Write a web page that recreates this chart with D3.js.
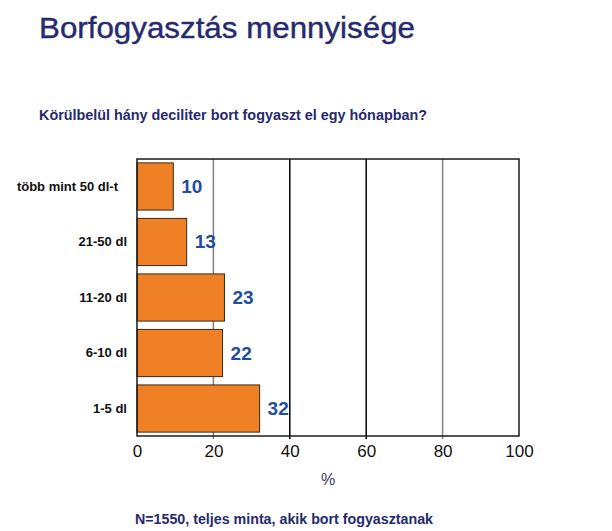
<!DOCTYPE html>
<html><head><meta charset="utf-8">
<script src="https://cdn.jsdelivr.net/npm/d3@7"></script>
<style>body{margin:0;background:#fff;} svg{display:block;font-family:"Liberation Sans",Arial,sans-serif;}</style>
</head><body>
<script>
const categories = ["több mint 50 dl-t","21-50 dl","11-20 dl","6-10 dl","1-5 dl"];
const values = [9.5, 13, 22.9, 22.4, 32.1];
const labels = ["10","13","23","22","32"];
const xTicks = [0,20,40,60,80,100];
const gridColors = {20:"#808080",40:"#000",60:"#000",80:"#808080"};

const W=612,H=531;
const m={left:137,right:612-519,top:159,bottom:531-436};
const svg=d3.select("body").append("svg").attr("width",W).attr("height",H);
const x=d3.scaleLinear().domain([0,100]).range([m.left,W-m.right]);
const y=d3.scaleBand().domain(categories).range([m.top,H-m.bottom]).paddingInner(0.15).paddingOuter(0.07);

svg.append("text").attr("x",39).attr("y",38).attr("font-size",30).attr("fill","#262a6e")
  .attr("textLength",376).attr("lengthAdjust","spacingAndGlyphs").attr("stroke","#262a6e").attr("stroke-width",0.4)
  .text("Borfogyasztás mennyisége");
svg.append("text").attr("x",39).attr("y",120).attr("font-size",15).attr("font-weight","bold").attr("fill","#262a6e")
  .attr("textLength",388).attr("lengthAdjust","spacingAndGlyphs")
  .text("Körülbelül hány deciliter bort fogyaszt el egy hónapban?");

// gridlines
svg.append("g").selectAll("line").data(xTicks.filter(d=>d>0&&d<100)).join("line")
 .attr("x1",d=>x(d)).attr("x2",d=>x(d)).attr("y1",m.top).attr("y2",H-m.bottom+3)
 .attr("stroke",d=>gridColors[d]).attr("stroke-width",1.5);

// bars
svg.append("g").selectAll("rect").data(values).join("rect")
 .attr("x",x(0)).attr("y",(d,i)=>y(categories[i])).attr("width",d=>x(d)-x(0)).attr("height",y.bandwidth())
 .attr("fill","#f08026").attr("stroke","#3a2a1a").attr("stroke-width",1);

// frame
svg.append("rect").attr("x",m.left).attr("y",m.top).attr("width",x(100)-x(0)).attr("height",H-m.bottom-m.top)
 .attr("fill","none").attr("stroke","#1a1a1a").attr("stroke-width",1.5);

// value labels
svg.append("g").selectAll("text").data(values).join("text")
 .attr("x",d=>x(d)+8).attr("y",(d,i)=>y(categories[i])+y.bandwidth()/2+6.5)
 .attr("font-size",19).attr("font-weight","bold").attr("fill","#1f4e9c").text((d,i)=>labels[i]);

// y axis labels
const ya=d3.axisLeft(y).tickSize(0).tickPadding(10);
const yg=svg.append("g").attr("transform",`translate(${m.left},0)`).call(ya);
yg.select(".domain").remove();
yg.selectAll("text").attr("font-size",13).attr("font-weight","bold").attr("fill","#111").attr("font-family","Liberation Sans, Arial, sans-serif")
  .attr("dx",(d,i)=>i===0?-9:0);

// x axis
const xa=d3.axisBottom(x).tickValues(xTicks).tickSize(0).tickPadding(9);
const xg=svg.append("g").attr("transform",`translate(0,${H-m.bottom})`).call(xa);
xg.select(".domain").remove();
xg.selectAll("text").attr("font-size",17).attr("fill","#111").attr("font-family","Liberation Sans, Arial, sans-serif");

svg.append("text").attr("x",x(50)).attr("y",485).attr("text-anchor","middle").attr("font-size",16).attr("fill","#3a3a5a").text("%");
svg.append("text").attr("x",135).attr("y",524).attr("font-size",14).attr("font-weight","bold").attr("fill","#262a6e")
  .attr("textLength",298).attr("lengthAdjust","spacingAndGlyphs")
  .text("N=1550, teljes minta, akik bort fogyasztanak");
</script>
</body></html>
